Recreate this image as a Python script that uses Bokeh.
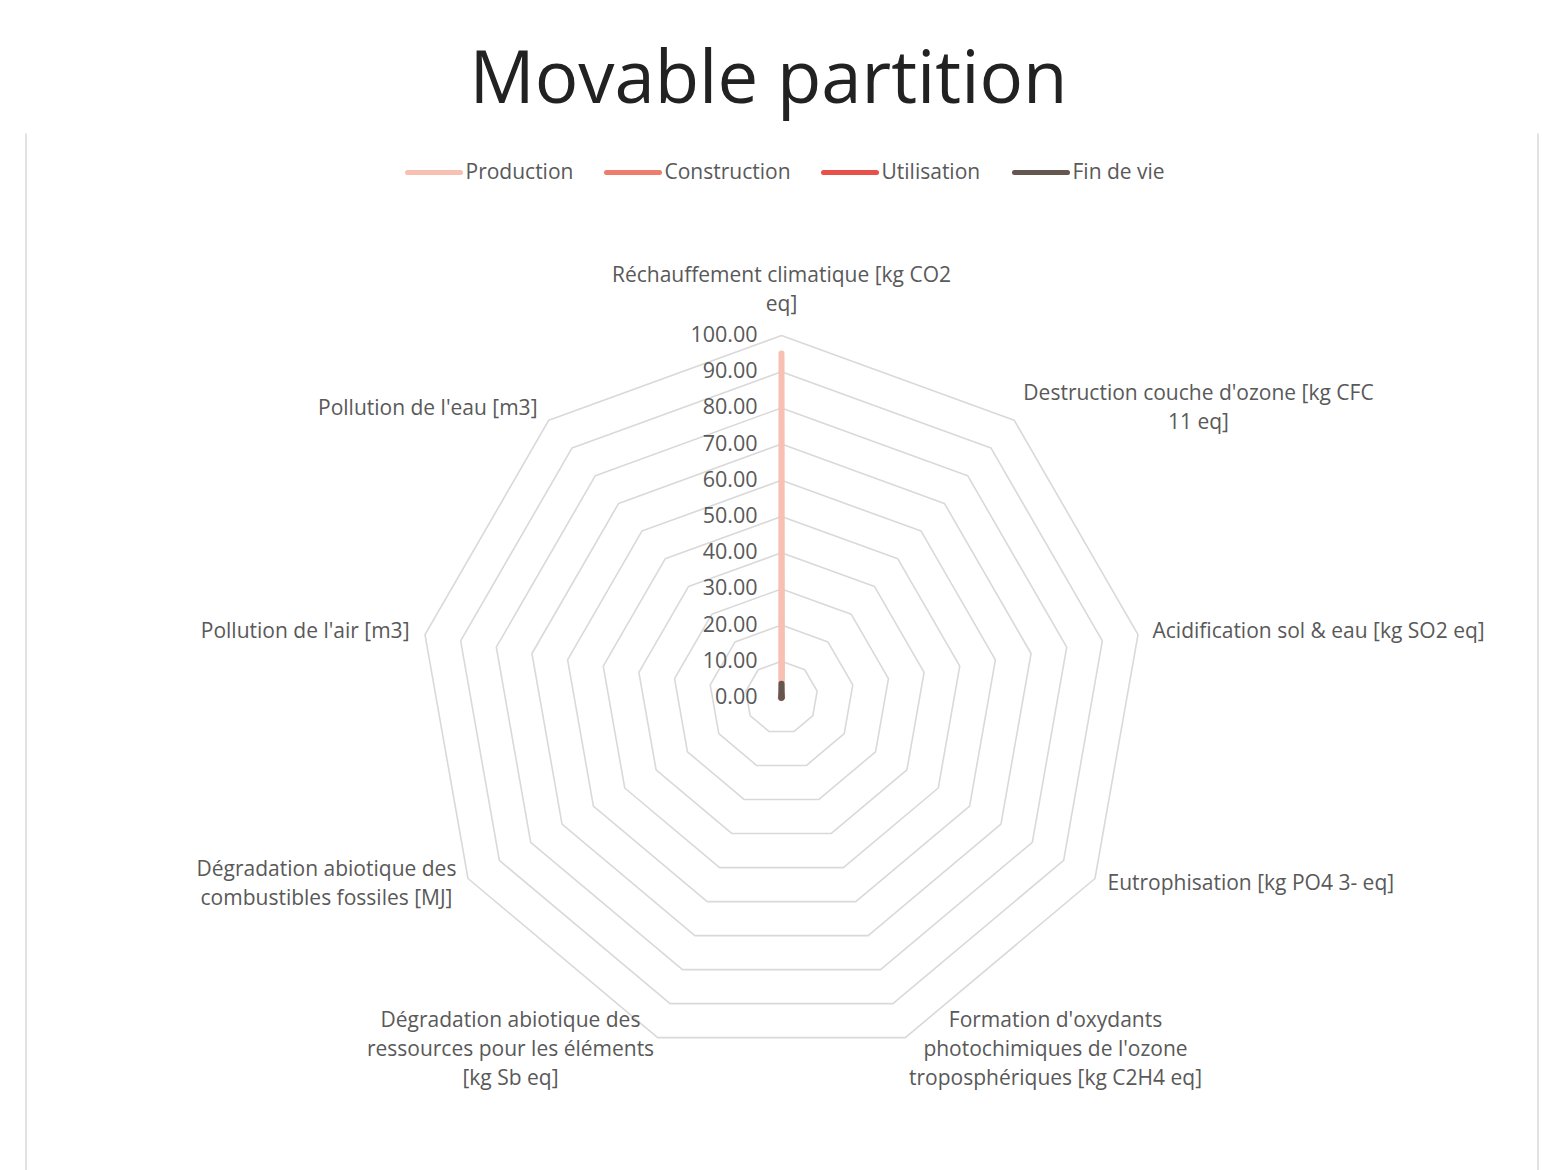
import math
from bokeh.plotting import figure
from bokeh.models import Range1d
from bokeh.core.properties import value
from bokeh.embed import file_html
from bokeh.resources import INLINE

# ---- data ----
categories = [
    "Réchauffement climatique [kg CO2\neq]",
    "Destruction couche d'ozone [kg CFC\n11 eq]",
    "Acidification sol & eau [kg SO2 eq]",
    "Eutrophisation [kg PO4 3- eq]",
    "Formation d'oxydants\nphotochimiques de l'ozone\ntroposphériques [kg C2H4 eq]",
    "Dégradation abiotique des\nressources pour les éléments\n[kg Sb eq]",
    "Dégradation abiotique des\ncombustibles fossiles [MJ]",
    "Pollution de l'air [m3]",
    "Pollution de l'eau [m3]",
]
series_names = ["Production", "Construction", "Utilisation", "Fin de vie"]
production = [95.0, 0.2, 0.2, 0.1, 0.1, 0.2, 0.3, 0.1, 0.1]
construction = [0.8, 0.0, 0.0, 0.0, 0.0, 0.0, 0.1, 0.0, 0.0]
utilisation = [0.5, 0.0, 0.0, 0.0, 0.0, 0.0, 0.0, 0.0, 0.0]
fin_de_vie = [3.8, 0.1, 0.1, 0.1, 0.1, 0.1, 0.1, 0.1, 0.1]
ticks = [0, 10, 20, 30, 40, 50, 60, 70, 80, 90, 100]
tick_labels = ["0.00", "10.00", "20.00", "30.00", "40.00", "50.00",
               "60.00", "70.00", "80.00", "90.00", "100.00"]
title_text = "Movable partition"

# ---- layout / style ----
colors = ["#f7c0b2", "#ee7d6d", "#e8504a", "#665650"]
W, H = 1542, 1170
CX, CY, S = 781.0, 697.0, 3.62   # page pixel centre and px per unit

def X(px):
    return (px - CX) / S

def Y(py):
    return (CY - py) / S

p = figure(width=W, height=H, output_backend="svg", toolbar_location=None,
           x_range=Range1d(X(0), X(W)), y_range=Range1d(Y(H), Y(0)),
           min_border=0)
p.axis.visible = False
p.grid.visible = False
p.outline_line_color = None
p.background_fill_color = "white"

n = len(categories)
angles = [math.pi / 2 - i * 2 * math.pi / n for i in range(n)]

# grid rings
for t in ticks[1:]:
    xs = [t * math.cos(a) for a in angles] + [t * math.cos(angles[0])]
    ys = [t * math.sin(a) for a in angles] + [t * math.sin(angles[0])]
    p.line(xs, ys, line_color="#d9d9d9", line_width=1.6)

# chart border lines
p.segment(x0=[X(25.5), X(1537.5)], y0=[Y(133), Y(133)],
          x1=[X(25.5), X(1537.5)], y1=[Y(1170), Y(1170)],
          line_color="#d9d9d9", line_width=1.5)

# series
for vals, c in zip([production, construction, utilisation, fin_de_vie], colors):
    xs = [v * math.cos(a) for v, a in zip(vals, angles)] + [vals[0] * math.cos(angles[0])]
    ys = [v * math.sin(a) for v, a in zip(vals, angles)] + [vals[0] * math.sin(angles[0])]
    p.line(xs, ys, line_color=c, line_width=6, line_join="round", line_cap="round")

FONT = value("Open Sans")
LABEL_COLOR = "#595959"
FS = "21px"
DY = -1.5  # small vertical text correction

# tick labels
p.text(x=[X(757)] * len(ticks), y=[t + (-DY) / S for t in ticks], text=tick_labels,
       text_font=FONT, text_font_size="21.5px", text_color=LABEL_COLOR,
       text_align="right", text_baseline="middle")

# category labels: (anchor x, first-line y, align) in page pixels
label_pos = [(781, 275, "center"), (1198, 393, "center"), (1152, 631, "left"),
             (1107, 883, "left"), (1055, 1020, "center"), (510, 1020, "center"),
             (326, 869, "center"), (409, 631, "right"), (537, 408, "right")]
LH = 29
for cat, (lx, ly, al) in zip(categories, label_pos):
    lines = cat.split("\n")
    p.text(x=[X(lx)] * len(lines), y=[Y(ly + DY + k * LH) for k in range(len(lines))],
           text=lines, text_font=FONT, text_font_size=FS, text_color=LABEL_COLOR,
           text_align=al, text_baseline="middle")

# legend
leg_x = [407, 606, 823, 1014]
LY = 172
for name, c, lx in zip(series_names, colors, leg_x):
    p.segment(x0=[X(lx)], y0=[Y(LY)], x1=[X(lx + 53)], y1=[Y(LY)],
              line_color=c, line_width=5, line_cap="round")
    p.text(x=[X(lx + 58)], y=[Y(LY + DY)], text=[name], text_font=FONT,
           text_font_size=FS, text_color=LABEL_COLOR,
           text_align="left", text_baseline="middle")

# title
p.text(x=[X(768)], y=[Y(74)], text=[title_text], text_font=FONT,
       text_font_size="72.5px", text_color="#222222",
       text_align="center", text_baseline="middle")

open("out.html", "w").write(file_html(p, INLINE))
